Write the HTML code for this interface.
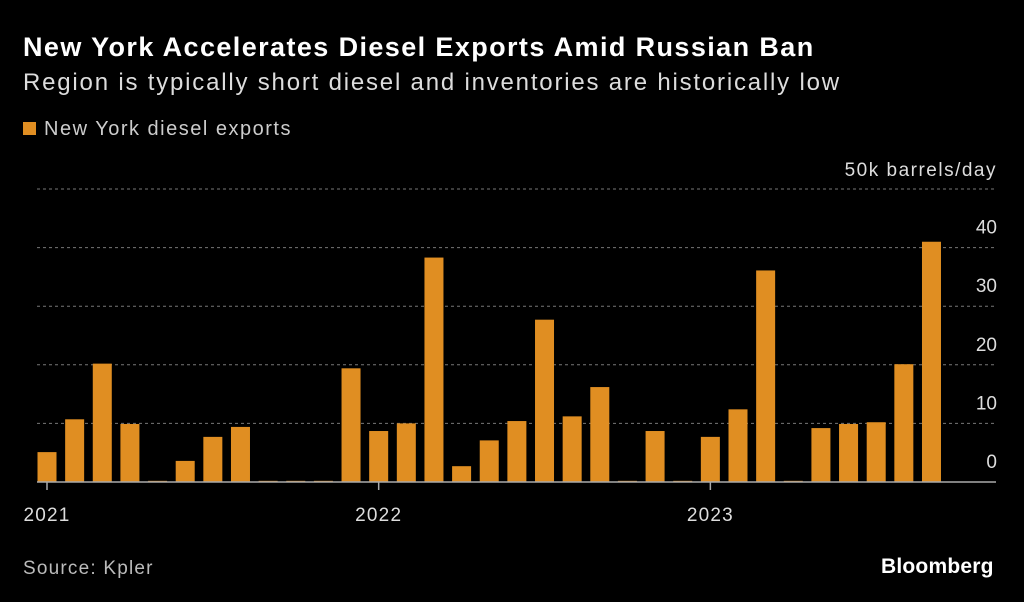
<!DOCTYPE html>
<html><head><meta charset="utf-8"><style>
body{margin:0;background:#000;width:1024px;height:602px;overflow:hidden;font-family:"Liberation Sans",sans-serif;color:#fff}
.t{position:absolute;left:23px;white-space:nowrap}
</style></head><body>
<div class="t" style="top:32px;font-size:27px;font-weight:bold;letter-spacing:1.4px">New York Accelerates Diesel Exports Amid Russian Ban</div>
<div class="t" style="top:69px;font-size:24px;color:#ddd;letter-spacing:1.8px">Region is typically short diesel and inventories are historically low</div>
<div class="t" style="top:118px;font-size:20px;color:#ccc;letter-spacing:1.5px"><span style="display:inline-block;width:13px;height:13px;background:#e08e22;margin-right:8px"></span>New York diesel exports</div>
<div class="t" style="top:558px;font-size:19px;color:#bbb;letter-spacing:1.2px">Source: Kpler</div>
<div style="position:absolute;left:881px;top:555px;font-size:21px;font-weight:bold;letter-spacing:0.2px">Bloomberg</div>
<svg id="c" width="1024" height="602" style="position:absolute;left:0;top:0"></svg>
<script>
const months=["2021-01","2021-02","2021-03","2021-04","2021-05","2021-06","2021-07","2021-08","2021-09","2021-10","2021-11","2021-12","2022-01","2022-02","2022-03","2022-04","2022-05","2022-06","2022-07","2022-08","2022-09","2022-10","2022-11","2022-12","2023-01","2023-02","2023-03","2023-04","2023-05","2023-06","2023-07","2023-08","2023-09"];
const values=[5.1,10.7,20.2,9.9,0.2,3.6,7.7,9.4,0.2,0.2,0.2,19.4,8.7,10,38.3,2.7,7.1,10.4,27.7,11.2,16.2,0.2,8.7,0.2,7.7,12.4,36.1,0.2,9.2,9.9,10.2,20.1,41];
const yTicks=[0,10,20,30,40];
const xLabels=[{i:0,t:"2021"},{i:12,t:"2022"},{i:24,t:"2023"}];
const NS="http://www.w3.org/2000/svg",svg=document.getElementById("c");
const y=v=>482-v*5.86, x=i=>47+i*27.64;
function mk(tag,a){const e=document.createElementNS(NS,tag);for(const k in a)e.setAttribute(k,a[k]);svg.appendChild(e);return e;}
[...yTicks,50].forEach(v=>{if(v===0)return;
 const g=mk("line",{x1:37,x2:996,y1:y(v),y2:y(v),stroke:"#777","stroke-dasharray":"3,3","stroke-width":1});
 
 });
yTicks.forEach(v=>{const t=mk("text",{x:997,y:y(v)-14,"text-anchor":"end",fill:"#ddd","font-size":19,"font-family":"Liberation Sans"});t.textContent=v;
 
 });
const u=mk("text",{x:997,y:176,"text-anchor":"end",fill:"#ddd","font-size":19,"font-family":"Liberation Sans","letter-spacing":1.5});u.textContent="50k barrels/day";


values.forEach((v,i)=>{const b=mk("rect",{x:x(i)-9.5,y:y(v),width:19,height:Math.max(1,482-y(v)),fill:"#e08e22"});
 
 });
const base=mk("line",{x1:37,x2:996,y1:482,y2:482,stroke:"#aaa","stroke-width":1.5});


xLabels.forEach(o=>{const tk=mk("line",{x1:x(o.i),x2:x(o.i),y1:482,y2:490,stroke:"#aaa","stroke-width":1.5});
 
 
 const t=mk("text",{x:x(o.i),y:521,"text-anchor":"middle",fill:"#ddd","font-size":19,"font-family":"Liberation Sans","letter-spacing":1.2});t.textContent=o.t;
 
 });
</script>
</body></html>
